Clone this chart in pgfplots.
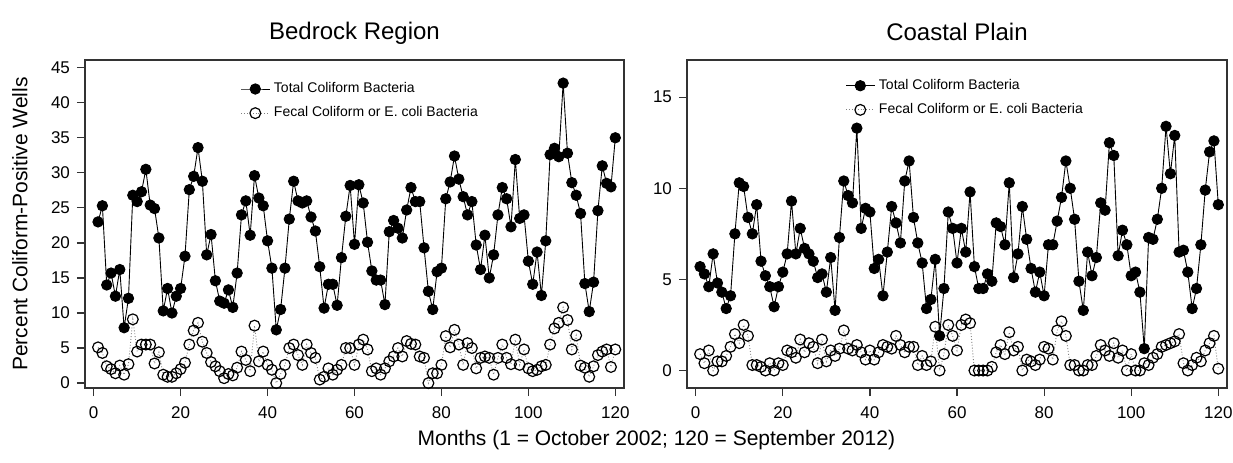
\documentclass[border=0pt]{standalone}
\usepackage{fontspec}
\setmainfont{Liberation Sans}
\usepackage{pgfplots}
\usepackage{pgfplotstable}
\pgfplotsset{compat=1.18}

% month, total coliform, fecal coliform / E. coli (percent of wells)
\pgfplotstableread{
m tc fc
1 23.0 5.1
2 25.3 4.3
3 14.0 2.4
4 15.7 2.0
5 12.4 1.4
6 16.2 2.5
7 7.9 1.2
8 12.1 2.7
9 26.8 9.1
10 25.9 4.5
11 27.3 5.5
12 30.5 5.5
13 25.4 5.5
14 24.9 2.8
15 20.7 4.4
16 10.3 1.2
17 13.5 0.9
18 10.0 0.9
19 12.4 1.4
20 13.5 2.0
21 18.1 2.9
22 27.6 5.5
23 29.5 7.5
24 33.6 8.6
25 28.8 5.9
26 18.3 4.3
27 21.2 3.0
28 14.6 2.4
29 11.7 1.7
30 11.4 0.7
31 13.3 1.3
32 10.8 1.1
33 15.7 2.2
34 24.0 4.5
35 26.0 3.3
36 21.1 1.7
37 29.6 8.2
38 26.4 3.1
39 25.3 4.5
40 20.3 2.6
41 16.4 1.9
42 7.6 0.0
43 10.5 1.3
44 16.4 2.6
45 23.4 5.0
46 28.8 5.5
47 26.0 4.0
48 25.7 2.6
49 26.0 5.5
50 23.7 4.3
51 21.7 3.6
52 16.6 0.5
53 10.7 0.9
54 14.1 2.1
55 14.1 1.2
56 11.1 1.9
57 17.9 2.6
58 23.8 5.0
59 28.2 5.0
60 19.8 2.6
61 28.3 5.5
62 25.7 6.2
63 20.1 4.8
64 16.0 1.7
65 14.7 2.1
66 14.7 1.2
67 11.2 2.1
68 21.6 3.1
69 23.2 3.8
70 22.1 5.0
71 20.7 3.8
72 24.7 6.0
73 27.9 5.6
74 25.9 5.5
75 25.9 3.8
76 19.3 3.6
77 13.1 0.0
78 10.5 1.4
79 15.9 1.4
80 16.4 2.6
81 26.3 6.7
82 28.7 5.1
83 32.4 7.6
84 29.1 5.5
85 26.6 2.6
86 24.0 5.7
87 25.9 5.0
88 19.7 2.1
89 16.2 3.6
90 21.1 3.8
91 15.0 3.6
92 18.3 1.2
93 24.0 3.6
94 27.9 5.5
95 26.3 3.6
96 22.3 2.7
97 31.9 6.2
98 23.5 2.6
99 24.0 4.8
100 17.4 2.1
101 14.1 1.7
102 18.7 1.9
103 12.5 2.4
104 20.3 2.6
105 32.6 5.5
106 33.5 7.8
107 32.3 8.6
108 42.8 10.8
109 32.8 9.0
110 28.6 4.8
111 26.8 6.8
112 24.2 2.5
113 14.2 2.2
114 10.2 0.9
115 14.4 2.4
116 24.6 4.0
117 31.0 4.5
118 28.5 4.8
119 28.0 2.3
120 35.0 4.8
}\bedrock

\pgfplotstableread{
m tc fc
1 5.7 0.9
2 5.3 0.4
3 4.6 1.1
4 6.4 0.0
5 4.8 0.5
6 4.3 0.5
7 3.4 0.8
8 4.1 1.3
9 7.5 2.0
10 10.3 1.5
11 10.1 2.5
12 8.4 1.9
13 7.5 0.3
14 9.1 0.3
15 6.0 0.2
16 5.2 0.0
17 4.6 0.4
18 3.5 0.0
19 4.6 0.4
20 5.4 0.3
21 6.4 1.1
22 9.3 1.0
23 6.4 0.7
24 7.8 1.7
25 6.7 1.0
26 6.4 1.5
27 6.0 1.3
28 5.1 0.4
29 5.3 1.7
30 4.3 0.5
31 6.2 1.1
32 3.3 0.8
33 7.3 1.2
34 10.4 2.2
35 9.6 1.2
36 9.2 1.1
37 13.3 1.4
38 7.8 1.0
39 8.9 0.6
40 8.7 1.1
41 5.6 0.6
42 6.1 1.0
43 4.1 1.4
44 6.5 1.3
45 9.0 1.2
46 8.1 1.9
47 7.0 1.4
48 10.4 1.0
49 11.5 1.3
50 8.4 1.3
51 7.0 0.3
52 5.9 0.8
53 3.4 0.3
54 3.9 0.5
55 6.1 2.4
56 1.9 0.0
57 4.5 0.9
58 8.7 2.5
59 7.8 1.9
60 5.9 1.1
61 7.8 2.5
62 6.5 2.8
63 9.8 2.6
64 5.7 0.0
65 4.5 0.0
66 4.5 0.0
67 5.3 0.0
68 4.9 0.2
69 8.1 1.0
70 7.9 1.4
71 6.9 0.9
72 10.3 2.1
73 5.1 1.1
74 6.4 1.3
75 9.0 0.0
76 7.2 0.6
77 5.6 0.5
78 4.3 0.3
79 5.4 0.6
80 4.1 1.3
81 6.9 1.2
82 6.9 0.6
83 8.2 2.2
84 9.5 2.7
85 11.5 1.9
86 10.0 0.3
87 8.3 0.3
88 4.9 0.0
89 3.3 0.0
90 6.5 0.3
91 5.2 0.3
92 6.2 0.8
93 9.2 1.4
94 8.8 1.1
95 12.5 0.8
96 11.8 1.5
97 6.3 0.7
98 7.7 1.1
99 6.9 0.0
100 5.2 0.9
101 5.4 0.0
102 4.3 0.0
103 1.2 0.4
104 7.3 0.3
105 7.2 0.7
106 8.3 0.9
107 10.0 1.3
108 13.4 1.4
109 10.8 1.5
110 12.9 1.6
111 6.5 2.0
112 6.6 0.4
113 5.4 0.0
114 3.4 0.3
115 4.5 0.7
116 6.9 0.5
117 9.9 1.1
118 12.0 1.5
119 12.6 1.9
120 9.1 0.1
}\coastal

\pgfplotsset{
  panel/.style={
    scale only axis, height=164pt,
    xmin=-2, xmax=122, xtick={0,20,...,120},
    tick align=outside, tick pos=left, major tick length=4pt,
    axis line style={black!80, line width=0.6pt},
    tick style={black!80, line width=0.6pt},
    tick label style={font=\fontsize{8.5}{10}\selectfont},
    /pgf/number format/assume math mode=true,
    xticklabel style={yshift=-2pt},
    title style={at={(0.5,1)}, anchor=base, yshift=4pt, font=\fontsize{12}{14}\selectfont},
    legend style={draw=none, fill=none, font=\fontsize{7}{8}\selectfont, row sep=1.5pt, inner sep=0pt},
    legend cell align=left,
    legend image code/.code={\draw[mark repeat=2, mark phase=2, ##1] plot coordinates {(0cm,0cm) (0.25cm,0cm) (0.5cm,0cm)};},
  },
  tcstyle/.style={black, line width=0.45pt, mark=*, mark size=2.6pt, mark options={solid, fill=black}},
  fcstyle/.style={gray, densely dotted, line width=0.45pt, mark=o, mark size=2.7pt, mark options={solid, black, fill=white, line width=0.6pt}},
}

\begin{document}
\begin{tikzpicture}
\useasboundingbox (0,0) rectangle (616.5pt,231pt);
\begin{axis}[panel, at={(42.5pt,37pt)}, anchor=south west, width=269.5pt,
  ymin=-0.7, ymax=46.1, ytick={0,5,...,45},
  title={Bedrock Region},
  ylabel={Percent Coliform-Positive Wells},
  ylabel style={at={(axis description cs:-0.1206,0.5)}, anchor=center, font=\fontsize{10.5}{12}\selectfont},
  xlabel={Months (1 = October 2002; 120 = September 2012)},
  xlabel style={at={(axis description cs:1.06,0)}, anchor=center, yshift=-26pt, font=\fontsize{10.5}{12}\selectfont},
  legend style={at={(0.288,0.945)}, anchor=north west}]
\addplot[tcstyle] table[x=m, y=tc] {\bedrock};
\addlegendentry{Total Coliform Bacteria}
\addplot[fcstyle] table[x=m, y=fc] {\bedrock};
\addlegendentry{Fecal Coliform or E. coli Bacteria}
\end{axis}
\begin{axis}[panel, at={(343.5pt,37pt)}, anchor=south west, width=270pt,
  ymin=-0.96, ymax=17.04, ytick={0,5,10,15},
  title={Coastal Plain},
  legend style={at={(0.293,0.955)}, anchor=north west}]
\addplot[tcstyle] table[x=m, y=tc] {\coastal};
\addlegendentry{Total Coliform Bacteria}
\addplot[fcstyle] table[x=m, y=fc] {\coastal};
\addlegendentry{Fecal Coliform or E. coli Bacteria}
\end{axis}
\end{tikzpicture}
\end{document}
